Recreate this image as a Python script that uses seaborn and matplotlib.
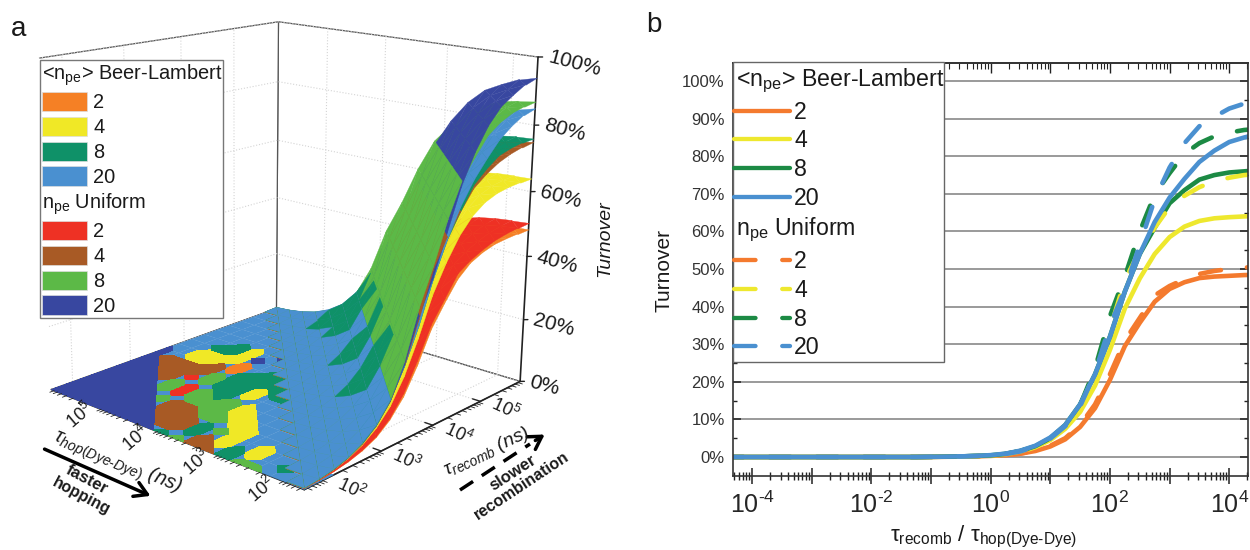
import numpy as np
import pandas as pd
import seaborn as sns
import matplotlib.pyplot as plt
from matplotlib.lines import Line2D
from matplotlib.patches import Patch, Rectangle, FancyArrowPatch
from matplotlib.ticker import FixedLocator, NullFormatter, FuncFormatter, LogLocator
from mpl_toolkits.mplot3d import proj3d
from mpl_toolkits.mplot3d.art3d import Poly3DCollection

# turnover (%) against log10(tau_recomb / tau_hop), quarter decade steps from -4.5 to 4.5
log_ratio = [-4.5, -4.25, -4.0, -3.75, -3.5, -3.25, -3.0, -2.75, -2.5, -2.25, -2.0, -1.75, -1.5, -1.25,
             -1.0, -0.75, -0.5, -0.25, 0.0, 0.25, 0.5, 0.75, 1.0, 1.25, 1.5, 1.75, 2.0, 2.25, 2.5, 2.75,
             3.0, 3.25, 3.5, 3.75, 4.0, 4.25, 4.5]
zero_tail = [0.0] * 14
bl_2 = zero_tail + [0.03, 0.06, 0.1, 0.18, 0.3, 0.5, 0.9, 1.6, 2.8, 4.7, 8.0, 13.0, 20.5, 29.5, 35.7, 41.3, 44.7, 46.5, 47.6, 48.0, 48.2, 48.4, 48.5]
bl_4 = zero_tail + [0.04, 0.08, 0.14, 0.24, 0.4, 0.7, 1.4, 2.6, 4.5, 7.5, 12.0, 19.0, 28.5, 39.5, 47.5, 54.0, 58.5, 61.3, 62.8, 63.5, 63.8, 64.0, 64.2]
bl_8 = zero_tail + [0.05, 0.09, 0.16, 0.27, 0.45, 0.85, 1.6, 2.9, 5.0, 8.5, 14.0, 22.0, 32.0, 44.0, 54.0, 61.0, 67.5, 71.0, 73.8, 75.0, 75.7, 76.0, 76.3]
bl_20 = zero_tail + [0.05, 0.1, 0.17, 0.3, 0.5, 0.9, 1.7, 3.0, 5.2, 8.5, 14.0, 22.0, 32.0, 44.0, 54.0, 62.5, 69.0, 74.0, 78.5, 81.5, 83.8, 85.0, 86.0]
un_2 = zero_tail + [0.03, 0.06, 0.1, 0.18, 0.3, 0.5, 0.9, 1.7, 3.0, 5.0, 8.5, 14.0, 22.0, 31.0, 37.0, 43.0, 45.5, 47.3, 48.7, 49.5, 50.0, 50.4, 50.6]
un_4 = zero_tail + [0.04, 0.08, 0.14, 0.24, 0.4, 0.75, 1.5, 2.8, 4.8, 8.2, 13.5, 22.0, 34.0, 47.0, 55.0, 61.0, 66.5, 69.5, 71.8, 73.3, 74.3, 75.0, 75.3]
un_8 = zero_tail + [0.05, 0.09, 0.16, 0.27, 0.45, 0.85, 1.6, 2.95, 5.0, 8.3, 13.8, 23.5, 37.5, 48.0, 60.0, 69.8, 75.5, 80.7, 83.5, 85.3, 86.3, 87.0, 87.3]
un_20 = zero_tail + [0.05, 0.09, 0.16, 0.27, 0.42, 0.8, 1.5, 2.8, 4.9, 8.2, 13.5, 22.5, 35.0, 44.5, 56.5, 68.5, 77.0, 83.5, 88.0, 90.5, 92.7, 94.0, 94.5]

series_names = ["BL 2", "BL 4", "BL 8", "BL 20", "U 2", "U 4", "U 8", "U 20"]
series_values = [bl_2, bl_4, bl_8, bl_20, un_2, un_4, un_8, un_20]
legend_numbers = ["2", "4", "8", "20"]
surface_colors = ["#F58025", "#F0E826", "#0F9168", "#4A90D0", "#EE3124", "#A85A25", "#5CB947", "#3847A0"]
line_colors = ["#F47A2E", "#EEE82E", "#1C8A44", "#4A90D0"]

# panel a: log10 tau nodes on both floor axes
log_tau = [1.65, 1.9, 2.15, 2.4, 2.65, 2.9, 3.15, 3.4, 3.65, 3.9, 4.15, 4.4, 4.65, 4.9, 5.15, 5.4, 5.65, 5.9]
tick_decades = [2, 3, 4, 5]
turnover_ticks = [0, 20, 40, 60, 80, 100]

# which series lies on top of the flat part, one row per hop node (last to first), one letter per recomb node
# a-d Beer-Lambert 2,4,8,20   e-h Uniform 2,4,8,20
plateau_rows = [
    "hhhhhhhhhddddddddd",
    "hhhhhhhfdddddddddd",
    "hhhhhhffbbcddddddd",
    "hhhhhfffbbccdddddd",
    "hhhhggeffbbbdddddd",
    "hhhgeeggaahddddddd",
    "hhffggcccddhdddddd",
    "hfffgcccccdddddddd",
    "cffgggbbcccddddddd",
    "gccgbbdccddddddddd",
    "ffgbbddcdddddddddd",
    "fbbbdddddddddddddd",
    "ccdddddddddddddddd",
    "gbbddddddddddddddd",
    "gddddddddddddddddd",
    "dcdddddddddddddddd",
    "dddddddddddddddddd",
    "dddddddddddddddddd",
]
# cells (recomb node, hop node) where the Beer-Lambert 8 sheet pokes out along the foot of the slope
teal_spikes = [(15, 12), (15, 11), (16, 12), (16, 11), (16, 10),
               (14, 10), (14, 9), (15, 10), (15, 9), (15, 8),
               (11, 7), (11, 6), (12, 7), (12, 6), (13, 6),
               (8, 4), (8, 3), (9, 4), (9, 3), (10, 3), (10, 4)]

sns.set_style("ticks")
plt.rcParams["font.family"] = ["Liberation Sans", "DejaVu Sans"]
plt.rcParams.update({
    "mathtext.fontset": "custom",
    "mathtext.rm": "Liberation Sans",
    "mathtext.it": "Liberation Sans:italic",
    "mathtext.bf": "Liberation Sans:bold",
    "grid.color": "#d4d4d4",
    "grid.linestyle": ":",
    "grid.linewidth": 0.8,
    "text.color": "#1a1a1a",
})

W, H = 1250, 550
fig = plt.figure(figsize=(W / 100, H / 100), dpi=100)


def fx(x):
    return x / W


def fy(y):
    return 1 - y / H


def put_text(x, y, s, **kw):
    kw.setdefault("ha", "center")
    kw.setdefault("va", "center")
    kw.setdefault("rotation_mode", "anchor")
    fig.text(fx(x), fy(y), s, **kw)


# ---------- panel a ----------
side, cx, cy = 575.0, 282.0, 234.4
ax3 = fig.add_axes([fx(cx - side / 2), fy(cy + side / 2), side / W, side / H], projection="3d", computed_zorder=False)
lo, hi = log_tau[0], log_tau[-1]
ax3.set_xlim(lo, hi, view_margin=0)
ax3.set_ylim(lo, hi, view_margin=0)
ax3.set_zlim(0, 100, view_margin=0)
ax3.view_init(elev=15.94, azim=-138.81, roll=-0.548)
ax3.set_proj_type("persp", focal_length=0.4807)
ax3.set_box_aspect((1, 0.9901, 0.9894))
ax3.patch.set_visible(False)


def label_3d(x, y, z, s, **kw):
    # rotated labels: Text3D ignores rotation, so project the anchor and use a plain axes text
    px, py, _ = proj3d.proj_transform(x, y, z, ax3.get_proj())
    ax3.text2D(px, py, s, rotation_mode="anchor", zorder=6, **kw)


for axis in (ax3.xaxis, ax3.yaxis, ax3.zaxis):
    axis.set_pane_color((1, 1, 1, 1))
    axis.pane.set_edgecolor("#555555")
    axis.pane.set_linewidth(0.9)
    axis.line.set_color("#222222")
    axis.line.set_linewidth(1.2)
    axis._axinfo["tick"]["outward_factor"] = 0.35
    axis._axinfo["tick"]["inward_factor"] = 0.0
    axis._axinfo["tick"]["linewidth"] = {True: 1.0, False: 0.6}
# the z axis goes on the right corner by hand, mplot3d keeps it on the left for this view
ax3.zaxis.line.set_visible(False)
ax3.zaxis._axinfo["tick"]["outward_factor"] = 0.0

# flat base and the patchwork of whichever series is marginally on top
base_verts = []
for i in range(len(log_tau) - 1):
    for j in range(len(log_tau) - 1):
        if i - j <= 1:
            base_verts.append([(log_tau[i], log_tau[j], 0), (log_tau[i + 1], log_tau[j], 0),
                               (log_tau[i + 1], log_tau[j + 1], 0), (log_tau[i], log_tau[j + 1], 0)])
ax3.add_collection3d(Poly3DCollection(base_verts, facecolors=surface_colors[3], edgecolors=surface_colors[3],
                                      linewidths=0.2, zorder=1))
tau_x, tau_y = np.meshgrid(log_tau, log_tau)
letters = np.array([list(r) for r in plateau_rows[::-1]])
for n, letter in enumerate("abcdefgh"):
    if letter == "d" or not (letters == letter).any():
        continue
    ax3.contourf(tau_x, tau_y, (letters == letter).astype(float), levels=[0.5, 1.5], colors=[surface_colors[n]],
                 zdir="z", offset=0, zorder=2)

# z axis line and ticks on the right corner
ax3.plot([hi, hi], [lo, lo], [0, 100], color="#222222", lw=1.2, zorder=2.5)
for v in turnover_ticks:
    ax3.plot([hi, hi + 0.04], [lo, lo - 0.04], [v, v], color="#222222", lw=1.0, zorder=2.5)
    label_3d(hi + 0.09, lo - 0.09, v, f"{v}%", fontsize=15, rotation=-15, ha="left", va="center")

# the camera looks nearly along the constant-ratio diagonals, so paint one strip between two
# neighbouring ratios at a time (high ratio first), inside a strip from the lowest sheet to the highest
groups = {}
mid = log_ratio.index(0.0)
for n, values in enumerate(series_values):
    for i in range(len(log_tau) - 1):
        for j in range(len(log_tau) - 1):
            if i - j < 0:
                continue
            k = mid + i - j
            p_a = (log_tau[i], log_tau[j], values[k])
            p_b = (log_tau[i + 1], log_tau[j], values[k + 1])
            p_c = (log_tau[i + 1], log_tau[j + 1], values[k])
            p_d = (log_tau[i], log_tau[j + 1], values[k - 1])
            lift = 3.0 if n == 2 and (i, j) in teal_spikes else 0.0
            for strip, tri in ((k, [p_a, p_b, p_c]), (k - 1, [p_a, p_c, p_d])):
                key = (-strip, (values[strip] + values[strip + 1]) / 2 + lift, n)
                groups.setdefault(key, []).append(tri)
for rank, key in enumerate(sorted(groups)):
    n = key[2]
    ax3.add_collection3d(Poly3DCollection(groups[key], facecolors=surface_colors[n], edgecolors=surface_colors[n],
                                          linewidths=0.25, zorder=3 + rank * 1e-4), autolim=False)

ax3.set_xticks(tick_decades, labels=[""] * 4)
ax3.set_yticks(tick_decades, labels=[""] * 4)
ax3.set_zticks(turnover_ticks, labels=[""] * 6)
for d in tick_decades:
    label_3d(d, lo - 0.37, 0, r"$\mathit{10^{%d}}$" % d, fontsize=13, rotation=-25, ha="center", va="center")
    label_3d(lo - 0.3, d, 0, r"$\mathit{10^{%d}}$" % d, fontsize=13, rotation=40, ha="center", va="center")

# minor decade ticks on the two floor edges
for d in [1, 2, 3, 4, 5]:
    for k in range(2, 10):
        v = d + np.log10(k)
        if lo <= v <= hi:
            ax3.plot([v, v], [lo, lo - 0.07], [0, 0], color="#222222", lw=0.6, zorder=4)
            ax3.plot([lo, lo - 0.07], [v, v], [0, 0], color="#222222", lw=0.6, zorder=4)

put_text(605, 239, "Turnover", rotation=90, style="italic", fontsize=14)
put_text(117, 462, r"τ$_{\mathit{hop(Dye}\text{-}\mathit{Dye)}}$ (ns)", rotation=-22.5, style="italic", fontsize=14.5)
put_text(487, 452, r"τ$_{\mathit{recomb}}$ (ns)", rotation=25, style="italic", fontsize=14)
put_text(87, 480, "faster", rotation=-28, fontweight="bold", fontsize=12)
put_text(81, 496, "hopping", rotation=-28, fontweight="bold", fontsize=11.5)
put_text(513, 473, "slower", rotation=33, fontweight="bold", fontsize=12)
put_text(522, 486, "recombination", rotation=33.5, fontweight="bold", fontsize=11.5)
fig.add_artist(FancyArrowPatch((fx(42), fy(448)), (fx(153), fy(497)), transform=fig.transFigure, color="black",
                               arrowstyle="->,head_length=0.5,head_width=0.3", mutation_scale=18, lw=2.5))
fig.add_artist(Line2D([fx(460), fx(530)], [fy(490), fy(444)], color="black", lw=2.5, ls=(0, (4.5, 3))))
fig.add_artist(FancyArrowPatch((fx(533), fy(442)), (fx(547), fy(433)), transform=fig.transFigure, color="black",
                               arrowstyle="->,head_length=0.5,head_width=0.3", mutation_scale=18, lw=2.5))
put_text(19, 29, "a", fontsize=20)
put_text(654, 25, "b", fontsize=20)

# legend of panel a
fig.add_artist(Rectangle((fx(40), fy(318)), 183 / W, 258 / H, transform=fig.transFigure, facecolor="white",
                         edgecolor="#777777", lw=1.0, zorder=4))
head_bl = r"<n$_{\mathdefault{pe}}$> Beer-Lambert"
head_un = r"n$_{\mathdefault{pe}}$ Uniform"
handles_a = [Patch(color="none", label=head_bl)]
handles_a += [Patch(facecolor=c, edgecolor="#dddddd", lw=0.5, label=t) for c, t in zip(surface_colors[:4], legend_numbers)]
handles_a += [Patch(color="none", label=head_un)]
handles_a += [Patch(facecolor=c, edgecolor="#dddddd", lw=0.5, label=t) for c, t in zip(surface_colors[4:], legend_numbers)]
leg_a = fig.legend(handles=handles_a, loc="upper left", bbox_to_anchor=(fx(42), fy(62)), frameon=False, borderpad=0,
                   borderaxespad=0, fontsize=14.4, handlelength=2.25, handleheight=1.1, handletextpad=0.3,
                   labelspacing=0.22)
for idx in (0, 5):
    leg_a.get_texts()[idx].set_x(-51)

# ---------- panel b ----------
ax = fig.add_axes([733 / W, 1 - 476 / H, (1247.7 - 733) / W, (476 - 62.7) / H])
frames = []
for name, values in zip(series_names, series_values):
    frames.append(pd.DataFrame({"ratio": 10.0 ** np.array(log_ratio), "turnover": values, "series": name}))
df = pd.concat(frames, ignore_index=True)

draw_order = ["BL 2", "BL 4", "BL 8", "U 2", "U 8", "U 4", "U 20", "BL 20"]
palette = dict(zip(series_names, line_colors * 2))
dash_map = {name: "" if name.startswith("BL") else (4.6, 5.7) for name in series_names}
sns.lineplot(data=df, x="ratio", y="turnover", hue="series", style="series", hue_order=draw_order,
             style_order=draw_order, palette=palette, dashes=dash_map, linewidth=3.3, estimator=None,
             legend=False, ax=ax)
for line in ax.lines:
    line.set_dash_capstyle("round")
    line.set_solid_capstyle("round")

ax.set_xscale("log")
ax.set_xlim(10 ** -4.32, 10 ** 4.31)
ax.set_ylim(-5.05, 104.9)
ax.set_xlabel("")
ax.set_ylabel("")
ax.set_yticks(range(0, 101, 10), labels=[f"{v}%" for v in range(0, 101, 10)])
ax.yaxis.set_minor_locator(FixedLocator(list(range(5, 105, 10))))
ax.grid(True, axis="y", which="major", color="#7f7f7f", linestyle="-", linewidth=1.1)
ax.set_axisbelow(True)
ax.xaxis.set_major_locator(FixedLocator([10.0 ** d for d in range(-4, 5)]))
ax.xaxis.set_major_formatter(FuncFormatter(
    lambda v, pos: (r"$\mathdefault{10^{%s}}$" % str(round(np.log10(v))).replace("-", r"\text{-}"))
    if round(np.log10(v)) % 2 == 0 else ""))
ax.xaxis.set_minor_locator(LogLocator(base=10, subs=np.arange(2, 10), numticks=20))
ax.xaxis.set_minor_formatter(NullFormatter())
ax.tick_params(axis="x", which="major", direction="inout", length=11, width=1.1, labelsize=18, pad=6, color="#222222")
ax.tick_params(axis="x", which="minor", direction="inout", length=6, width=1.0, color="#222222")
ax.tick_params(axis="y", which="major", direction="in", length=6, width=1.1, right=True, labelsize=12, pad=6, color="#222222", labelcolor="#333333")
ax.tick_params(axis="y", which="minor", direction="in", length=3, width=1.0, right=True, color="#222222")
top = ax.secondary_xaxis("top")
top.xaxis.set_major_locator(FixedLocator([10.0 ** d for d in range(-4, 5)]))
top.xaxis.set_major_formatter(NullFormatter())
top.xaxis.set_minor_locator(LogLocator(base=10, subs=np.arange(2, 10), numticks=20))
top.xaxis.set_minor_formatter(NullFormatter())
top.tick_params(which="major", direction="in", length=7, width=1.0, color="#222222")
top.tick_params(which="minor", direction="in", length=4, width=0.8, color="#222222")
for spine in ax.spines.values():
    spine.set_linewidth(1.2)
    spine.set_color("#333333")
top.spines["top"].set_linewidth(1.2)
ax.spines["top"].set_visible(True)
ax.spines["right"].set_visible(True)

put_text(984, 537, r"τ$_{\mathdefault{recomb}}$ / τ$_{\mathdefault{hop(Dye\text{-}Dye)}}$", fontsize=16)
put_text(664, 270, "Turnover", rotation=90, fontsize=15)

fig.add_artist(Rectangle((fx(733), fy(362)), 211 / W, 300 / H, transform=fig.transFigure, facecolor="white",
                         edgecolor="#666666", lw=1.0, zorder=4))
handles_b = [Line2D([], [], color="none", label=head_bl)]
handles_b += [Line2D([], [], color=c, lw=3.1, solid_capstyle="round", label=t) for c, t in zip(line_colors, legend_numbers)]
handles_b += [Line2D([], [], color="none", label=head_un)]
handles_b += [Line2D([], [], color=c, lw=3.1, ls=(0, (5.0, 6.2)), dash_capstyle="round", label=t)
              for c, t in zip(line_colors, legend_numbers)]
leg_b = fig.legend(handles=handles_b, loc="upper left", bbox_to_anchor=(fx(734), fy(66.5)), frameon=False, borderpad=0,
                   borderaxespad=0, fontsize=16.7, handlelength=2.4, handleheight=0.7, handletextpad=0.2,
                   labelspacing=0.25)
for idx in (0, 5):
    leg_b.get_texts()[idx].set_x(-58)

fig.savefig("out.png", dpi=100)
